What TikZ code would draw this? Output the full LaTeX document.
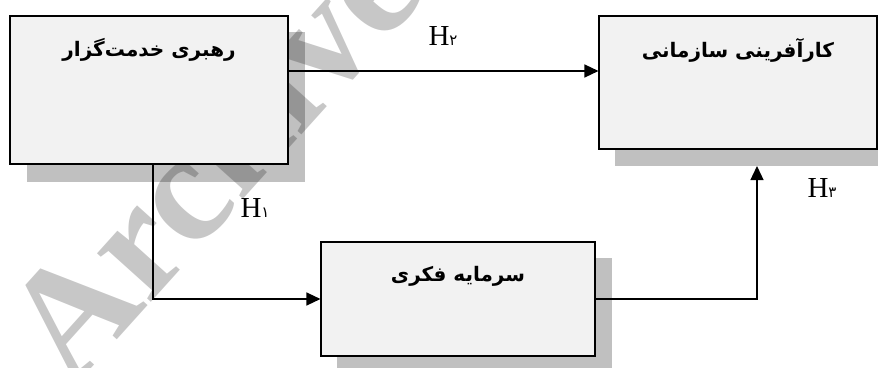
\documentclass[tikz,border=0pt]{standalone}
\usepackage{fontspec}
\setmainfont{Liberation Serif}
\newfontfamily\arabicfont[Script=Arabic]{DejaVu Sans}
\TeXXeTstate=1
\usetikzlibrary{arrows.meta,calc}
\definecolor{boxfill}{HTML}{F2F2F2}
\definecolor{shadowgray}{HTML}{C0C0C0}
\tikzset{
  boxshape/.style={draw=black, line width=1.1pt, fill=boxfill, rectangle, inner sep=0pt},
  shadowshape/.style={fill=shadowgray, draw=none},
  conn/.style={line width=1.3pt, -{Triangle[length=14pt,width=13pt]}},
  boxtext/.style={font=\arabicfont\bfseries\fontsize{20}{24}\selectfont, anchor=center},
  hlabel/.style={font=\fontsize{29}{32}\selectfont, anchor=base, inner sep=0pt},
}
\begin{document}
\begin{tikzpicture}[x=1pt,y=-1pt]
\useasboundingbox (0,0) rectangle (878,367);
% shadows
\fill[shadowgray] (27,32) rectangle (305,182);
\fill[shadowgray] (615,33) rectangle (893,166);
\fill[shadowgray] (337,258) rectangle (612,373);
% watermark
\node[black, opacity=0.22, rotate=48, anchor=base west, inner sep=0pt,
      font=\bfseries\fontsize{158}{158}\selectfont] (wm) at (72,390) {Archive};
% boxes
\node[boxshape, minimum width=278pt, minimum height=148pt] (b1) at (149,90) {};
\node[boxshape, minimum width=278pt, minimum height=133pt] (b2) at (738,82.5) {};
\node[boxshape, minimum width=274pt, minimum height=114pt] (b3) at (458,299) {};
\node[boxtext] (t1) at (149,50) {\beginR رهبری خدمت‌گزار\endR};
\node[boxtext] (t2) at (738,50) {\beginR کارآفرینی سازمانی\endR};
\node[boxtext] (t3) at (458,276) {\beginR سرمایه فکری\endR};
% connectors
\coordinate (h3end) at (757,166);
\draw[conn] (b1.east |- 0,71) coordinate (h2start) -- (b2.west |- h2start);
\draw[conn] ([xshift=4pt]b1.south) |- (b3.west);
\draw[conn] (b3.east) -| (h3end);
% labels
\node[hlabel] (l2) at (443,45) {H{\arabicfont\fontsize{15}{15}\selectfont ۲}};
\node[hlabel] (l1) at (255,217) {H{\arabicfont\fontsize{15}{15}\selectfont ۱}};
\node[hlabel] (l3) at (822,197) {H{\arabicfont\fontsize{15}{15}\selectfont ۳}};
\end{tikzpicture}
\end{document}
